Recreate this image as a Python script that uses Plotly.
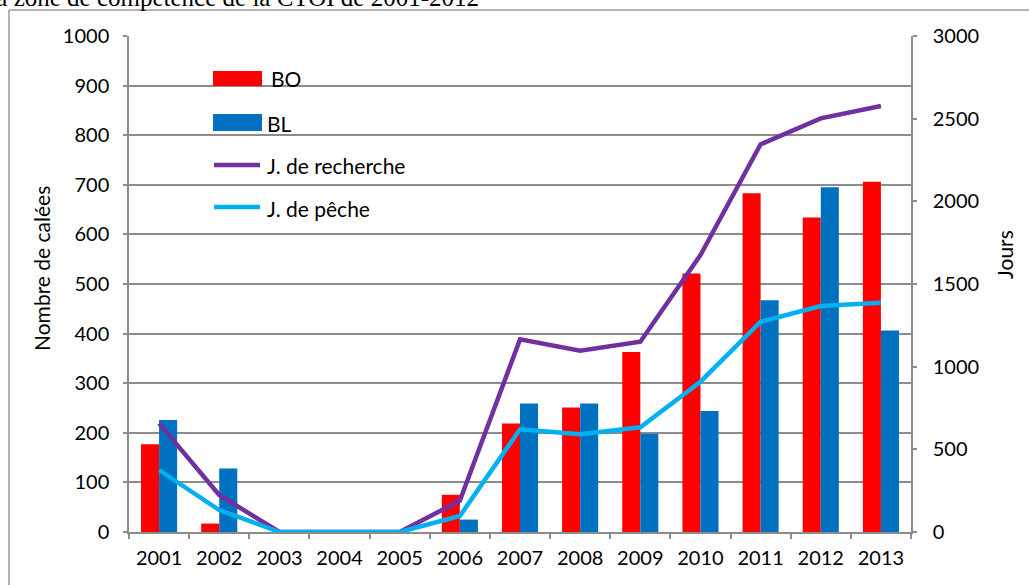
import plotly.graph_objects as go

years = ["2001", "2002", "2003", "2004", "2005", "2006", "2007",
         "2008", "2009", "2010", "2011", "2012", "2013"]
bo = [177, 17, 0, 0, 0, 75, 219, 251, 363, 521, 683, 634, 706]
bl = [226, 128, 0, 0, 0, 25, 259, 259, 198, 244, 467, 695, 406]
j_recherche = [657, 224, 0, 0, 0, 189, 1165, 1097, 1151, 1675, 2345, 2502, 2577]
j_peche = [375, 133, 0, 0, 0, 97, 621, 591, 633, 909, 1272, 1367, 1387]

RED = "#FF0000"
BLUE = "#0070C0"
PURPLE = "#7030A0"
CYAN = "#00B0F0"
GRID = "#8C8C8C"
FONT = "Lato, Carlito, Open Sans, sans-serif"

W, H = 1029, 585
L, R, T, B = 129, 911, 36, 532


def px(x):
    return (x - L) / (R - L)


def py(y):
    return (B - y) / (B - T)


fig = go.Figure()
fig.add_trace(go.Bar(x=years, y=bo, name="BO", marker_color=RED,
                     marker_line_width=0, showlegend=False))
fig.add_trace(go.Bar(x=years, y=bl, name="BL", marker_color=BLUE,
                     marker_line_width=0, showlegend=False))
fig.add_trace(go.Scatter(x=years, y=j_recherche, name="J. de recherche",
                         mode="lines", line=dict(color=PURPLE, width=4.5),
                         yaxis="y2", cliponaxis=False, showlegend=False))
fig.add_trace(go.Scatter(x=years, y=j_peche, name="J. de pêche",
                         mode="lines", line=dict(color=CYAN, width=4.5),
                         yaxis="y2", cliponaxis=False, showlegend=False))

shapes = []
annotations = []

# manual legend
leg = [
    ("rect", RED, 71, 86, "BO", 269, 79),
    ("rect", BLUE, 114, 131, "BL", 265, 123),
    ("line", PURPLE, 165, 165, "J. de recherche", 265, 165),
    ("line", CYAN, 207, 207, "J. de pêche", 265, 209),
]
for kind, col, y0, y1, label, tx, ty in leg:
    if kind == "rect":
        shapes.append(dict(type="rect", xref="paper", yref="paper",
                           x0=px(213), x1=px(262), y0=py(y1), y1=py(y0),
                           fillcolor=col, line=dict(width=0), layer="above"))
    else:
        shapes.append(dict(type="line", xref="paper", yref="paper",
                           x0=px(214), x1=px(260), y0=py(y0), y1=py(y0),
                           line=dict(color=col, width=4.5), layer="above"))
    annotations.append(dict(text=label, xref="paper", yref="paper",
                            x=px(tx), y=py(ty), xanchor="left", yanchor="middle",
                            showarrow=False, font=dict(family=FONT, size=21, color="black")))

# outer frame (left and top edges)
shapes.append(dict(type="line", xref="paper", yref="paper",
                   x0=px(9), x1=px(9), y0=py(10), y1=py(600),
                   line=dict(color="#9A9A9A", width=1.5), layer="above"))
shapes.append(dict(type="line", xref="paper", yref="paper",
                   x0=px(9), x1=px(1040), y0=py(10), y1=py(10),
                   line=dict(color="#9A9A9A", width=1.5), layer="above"))

# axis titles
annotations.append(dict(text="Nombre de calées", xref="paper", yref="paper",
                        x=px(41), y=py(269), textangle=-90, showarrow=False,
                        xanchor="center", yanchor="middle",
                        font=dict(family=FONT, size=21, color="black")))
annotations.append(dict(text="Jours", xref="paper", yref="paper",
                        x=px(1004), y=py(255), textangle=-90, showarrow=False,
                        xanchor="center", yanchor="middle",
                        font=dict(family=FONT, size=21, color="black")))

# cut-off caption at top
annotations.append(dict(text="à la zone de compétence de la CTOI de 2001-2012",
                        xref="paper", yref="paper", x=px(481), y=py(-2),
                        xanchor="right", yanchor="middle", showarrow=False,
                        font=dict(family="Liberation Serif, Times New Roman, serif",
                                  size=25, color="black")))

fig.update_layout(
    width=W, height=H,
    margin=dict(l=L, r=W - R, t=T, b=H - B, pad=0),
    paper_bgcolor="white", plot_bgcolor="white",
    barmode="group", bargap=0.4, bargroupgap=0,
    font=dict(family=FONT, size=20, color="black"),
    shapes=shapes, annotations=annotations,
    xaxis=dict(type="category", showline=True, linecolor=GRID, linewidth=1.5,
               ticks="outside", ticklen=5, tickcolor=GRID, tickwidth=1.5,
               tickson="boundaries", showgrid=False, ticklabelstandoff=7,
               tickfont=dict(family=FONT, size=20)),
    yaxis=dict(range=[0, 1000], dtick=100, showline=True, linecolor=GRID,
               linewidth=1.5, ticks="outside", ticklen=4, tickcolor=GRID,
               tickwidth=1.5, showgrid=True, gridcolor=GRID, gridwidth=1.5,
               zeroline=False, ticklabelstandoff=10,
               tickfont=dict(family=FONT, size=20)),
    yaxis2=dict(range=[0, 3000], dtick=500, overlaying="y", side="right",
                showline=True, linecolor=GRID, linewidth=1.5, ticks="outside",
                ticklen=4, tickcolor=GRID, tickwidth=1.5, showgrid=False,
                zeroline=False, ticklabelstandoff=12,
                tickfont=dict(family=FONT, size=20)),
)

fig.write_html("out.html", config={"displayModeBar": False},
               post_script="document.body.style.margin='0';document.body.style.overflow='hidden';")
